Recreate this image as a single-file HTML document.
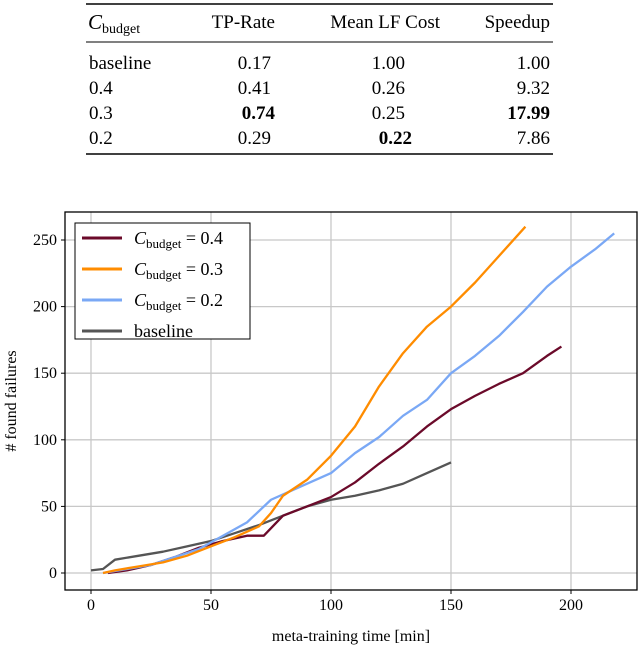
<!DOCTYPE html>
<html><head><meta charset="utf-8"><style>
body{margin:0;background:#fff;width:640px;height:648px;overflow:hidden;font-family:"Liberation Serif",serif;}
svg text{font-family:"Liberation Serif",serif;}
</style></head><body>
<svg id="s" width="640" height="648" xmlns="http://www.w3.org/2000/svg">
<g font-size="19" fill="#000">
<line x1="86" x2="553" y1="4" y2="4" stroke="#000" stroke-width="1.6"/>
<line x1="86" x2="553" y1="42" y2="42" stroke="#000" stroke-width="1"/>
<line x1="86" x2="553" y1="154" y2="154" stroke="#000" stroke-width="1.6"/>
<text x="88" y="29" font-style="italic" font-size="21">C<tspan font-style="normal" font-size="14" dy="4">budget</tspan></text>
<text x="275" y="28" text-anchor="end">TP-Rate</text>
<text x="440" y="28" text-anchor="end">Mean LF Cost</text>
<text x="550" y="28" text-anchor="end">Speedup</text>
<text x="89" y="69">baseline</text><text x="271" y="69" text-anchor="end">0.17</text><text x="405" y="69" text-anchor="end">1.00</text><text x="550" y="69" text-anchor="end">1.00</text>
<text x="89" y="94">0.4</text><text x="271" y="94" text-anchor="end">0.41</text><text x="405" y="94" text-anchor="end">0.26</text><text x="550" y="94" text-anchor="end">9.32</text>
<text x="89" y="119">0.3</text><text x="275" y="119" text-anchor="end" font-weight="bold">0.74</text><text x="405" y="119" text-anchor="end">0.25</text><text x="550" y="119" text-anchor="end" font-weight="bold">17.99</text>
<text x="89" y="144">0.2</text><text x="271" y="144" text-anchor="end">0.29</text><text x="412" y="144" text-anchor="end" font-weight="bold">0.22</text><text x="550" y="144" text-anchor="end">7.86</text>
</g>
<g id="grid"></g>
<g id="series"></g>
<g id="axes"></g>
<text x="351" y="641" text-anchor="middle" font-size="16">meta-training time [min]</text>
<text transform="translate(16,401) rotate(-90)" text-anchor="middle" font-size="16"># found failures</text>
<g>
<rect x="75" y="223" width="175" height="116" fill="#fff" stroke="#000" stroke-width="1"/>
<line x1="82" x2="122" y1="238" y2="238" stroke="#6b0a2a" stroke-width="3"/>
<line x1="82" x2="122" y1="269" y2="269" stroke="#ff8c00" stroke-width="3"/>
<line x1="82" x2="122" y1="300" y2="300" stroke="#7aa8f5" stroke-width="3"/>
<line x1="82" x2="122" y1="331" y2="331" stroke="#555" stroke-width="3"/>
<g font-size="18"><text x="134" y="244"><tspan font-style="italic">C</tspan><tspan font-size="13" dy="4">budget</tspan><tspan dy="-4"> = 0.4</tspan></text>
<text x="134" y="275"><tspan font-style="italic">C</tspan><tspan font-size="13" dy="4">budget</tspan><tspan dy="-4"> = 0.3</tspan></text>
<text x="134" y="306"><tspan font-style="italic">C</tspan><tspan font-size="13" dy="4">budget</tspan><tspan dy="-4"> = 0.2</tspan></text>
<text x="134" y="337">baseline</text></g>
</g>
</svg>
<script>
const xTicks=[0,50,100,150,200];
const yTicks=[0,50,100,150,200,250];
const b04X=[7,15,25,35,45,55,65,72,80,90,100,110,120,130,140,150,160,170,180,190,196];
const b04Y=[0,2,6,12,19,24,28,28,43,50,57,68,82,95,110,123,133,142,150,163,170];
const b03X=[5,10,20,30,40,50,60,70,75,80,90,100,110,120,130,140,150,160,170,181];
const b03Y=[0,2,5,8,13,20,27,35,45,58,70,88,110,140,165,185,200,218,238,260];
const b02X=[5,15,25,35,45,55,65,75,85,100,110,120,130,140,150,160,170,180,190,200,210,218];
const b02Y=[0,3,6,12,18,28,38,55,63,75,90,102,118,130,150,163,178,196,215,230,243,255];
const baseX=[0,5,10,20,30,40,50,60,70,80,90,100,110,120,130,140,150];
const baseY=[2,3,10,13,16,20,24,30,36,43,50,55,58,62,67,75,83];
const L=65,R=637,T=212,B=590;
const sx=v=>91+v*2.4, sy=v=>573-v*1.332;
const NS="http://www.w3.org/2000/svg";
function mk(t,a,p){const e=document.createElementNS(NS,t);for(const k in a)e.setAttribute(k,a[k]);p.appendChild(e);return e;}
const g=document.getElementById('grid'),ax=document.getElementById('axes'),se=document.getElementById('series');
xTicks.forEach(v=>{const l=mk('line',{x1:sx(v),x2:sx(v),y1:T,y2:B,stroke:'#c8c8c8','stroke-width':1.3},g);


const tk=mk('line',{x1:sx(v),x2:sx(v),y1:B,y2:B+4,stroke:'#000'},ax);


const t=mk('text',{x:sx(v),y:B+20,'text-anchor':'middle','font-size':16},ax);t.textContent=v;

});
yTicks.forEach(v=>{const l=mk('line',{x1:L,x2:R,y1:sy(v),y2:sy(v),stroke:'#c8c8c8','stroke-width':1.3},g);


const tk=mk('line',{x1:L-4,x2:L,y1:sy(v),y2:sy(v),stroke:'#000'},ax);


const t=mk('text',{x:L-8,y:sy(v)+5,'text-anchor':'end','font-size':16},ax);t.textContent=v;

});
const fr=mk('rect',{x:L,y:T,width:R-L,height:B-T,fill:'none',stroke:'#000','stroke-width':1.3},ax);


function line(xs,ys,c,n){const pts=xs.map((x,i)=>sx(x)+','+sy(ys[i])).join(' ');
const p=mk('polyline',{points:pts,fill:'none',stroke:c,'stroke-width':2.3,'stroke-linejoin':'round'},se);

}
line(baseX,baseY,'#555','line-baseline');
line(b04X,b04Y,'#6b0a2a','line-cbudget-0-4');
line(b02X,b02Y,'#7aa8f5','line-cbudget-0-2');
line(b03X,b03Y,'#ff8c00','line-cbudget-0-3');
</script>
</body></html>
